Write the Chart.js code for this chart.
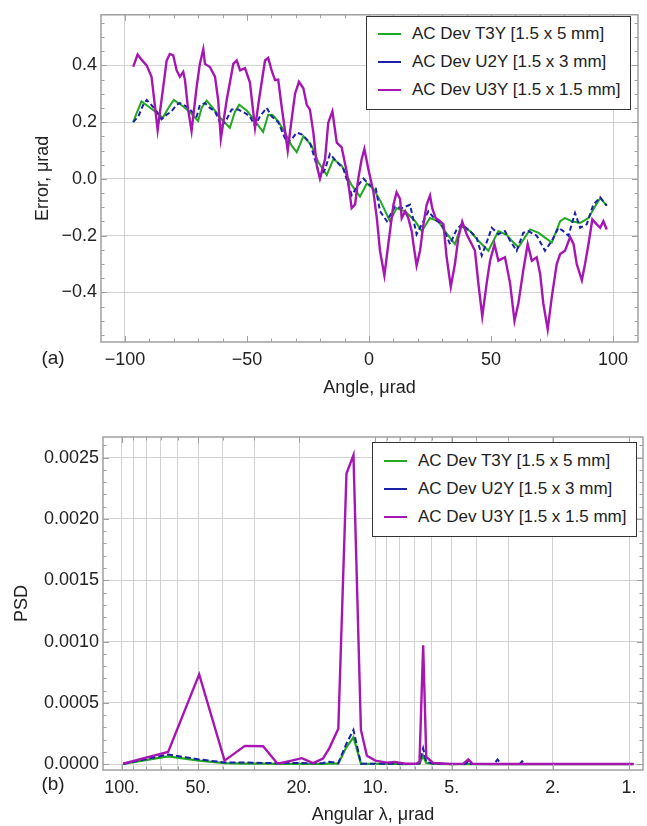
<!DOCTYPE html>
<html>
<head>
<meta charset="utf-8">
<title>AC Dev error and PSD</title>
<script src="https://cdn.jsdelivr.net/npm/chart.js@4.4.1/dist/chart.umd.min.js"></script>
<style>
  body { margin: 0; background: #fff; font-family: "Liberation Sans", Arial, sans-serif; }
  #wrap { position: relative; width: 647px; height: 826px; overflow: hidden; }
  canvas { position: absolute; left: 0; }
  .legend { position: absolute; box-sizing: border-box; width: 265px; background: #fff;
            border: 1.5px solid #333; font-size: 17px; color: #222; }
  .legend .row { display: flex; align-items: center; height: 28.2px; }
  .legend .swatch { width: 23px; height: 0; border-top: 2px solid; margin-left: 11px; margin-right: 11px; }
</style>
</head>
<body>
<div id="wrap">
  <canvas id="errChart" width="647" height="410" style="top:0"></canvas>
  <canvas id="psdChart" width="647" height="416" style="top:410px"></canvas>
  <div class="legend" id="errLegend" style="left:366px;top:16px;height:94px;padding-top:3px"></div>
  <div class="legend" id="psdLegend" style="left:372px;top:442px;height:95px;padding-top:4px"></div>
</div>
<script>
// ---- panel (a): error vs angle ----
const t3yAngle = [-96.6,-95.2,-93.2,-90.4,-87.5,-84.5,-82.2,-80.0,-76.1,-73.0,-70.0,-68.6,-66.5,-63.5,-60.4,-57.0,-55.0,-53.2,-50.0,-46.8,
  -43.4,-41.3,-39.5,-37.2,-34.4,-31.7,-29.6,-26.9,-23.5,-20.8,-17.3,-14.6,-11.2,-7.1,-3.7,-0.9,1.8,4.8,8.6,11.3,
  14.8,18.9,21.6,25.0,28.4,31.1,35.2,37.7,41.4,44.8,48.9,53.0,56.5,58.5,61.2,66.0,69.5,72.1,74.9,78.3,
  80.3,83.1,86.5,89.9,92.6,94.7,97.4];
const t3yError = [0.20,0.232,0.273,0.255,0.237,0.215,0.25,0.278,0.255,0.232,0.204,0.25,0.276,0.245,0.21,0.18,0.235,0.261,0.24,0.205,
  0.165,0.226,0.225,0.203,0.163,0.117,0.094,0.151,0.117,0.059,0.013,0.07,0.047,-0.022,-0.062,-0.016,-0.035,-0.08,-0.149,-0.103,
  -0.114,-0.149,-0.184,-0.138,-0.149,-0.184,-0.23,-0.166,-0.184,-0.218,-0.253,-0.184,-0.198,-0.218,-0.241,-0.178,-0.19,-0.207,-0.224,-0.149,
  -0.138,-0.149,-0.155,-0.138,-0.097,-0.068,-0.094];

const u2yAngle = [-96.6,-94.5,-92.5,-91.1,-89.1,-87.0,-85.0,-82.9,-80.9,-78.8,-77.5,-74.8,-72.7,-70.6,-69.3,-67.2,-65.2,-63.1,-60.4,-58.3,
  -56.3,-53.5,-50.8,-48.8,-46.7,-44.7,-41.9,-39.9,-37.2,-33.7,-31.7,-29.6,-27.6,-24.2,-21.4,-20.1,-18.0,-16.0,-13.2,-10.5,
  -7.1,-4.4,-2.3,0.4,2.8,4.5,7.3,10.7,13.4,16.8,19.5,22.3,24.3,27.1,29.8,33.2,35.9,38.0,41.4,44.1,
  46.2,48.9,50.3,53.0,55.7,57.8,60.5,63.2,65.3,68.7,72.1,74.9,77.6,79.6,81.7,84.4,86.5,89.2,91.9,94.7,97.4];
const u2yError = [0.20,0.22,0.261,0.278,0.26,0.238,0.21,0.226,0.238,0.261,0.267,0.255,0.238,0.22,0.261,0.267,0.25,0.238,0.186,0.21,
  0.244,0.244,0.232,0.22,0.186,0.22,0.25,0.22,0.20,0.128,0.14,0.163,0.157,0.128,0.047,0.007,0.035,0.088,0.06,0.036,
  -0.057,-0.022,0.001,-0.022,-0.034,-0.114,-0.149,-0.097,-0.103,-0.091,-0.195,-0.149,-0.114,-0.143,-0.16,-0.23,-0.178,-0.16,-0.184,-0.207,
  -0.27,-0.207,-0.172,-0.195,-0.184,-0.218,-0.253,-0.19,-0.184,-0.20,-0.253,-0.218,-0.172,-0.184,-0.20,-0.12,-0.172,-0.16,-0.091,-0.065,-0.094];

const u3yAngle = [-96.6,-94.8,-93.2,-91.1,-89.1,-87.7,-86.6,-85.0,-82.9,-81.6,-80.2,-78.8,-77.5,-76.1,-75.4,-74.1,-72.7,-70.6,-69.3,-67.9,
  -67.2,-65.2,-63.1,-61.8,-60.7,-58.3,-55.6,-54.2,-52.8,-50.8,-48.8,-46.7,-44.7,-42.6,-41.3,-39.9,-38.5,-37.2,-35.8,-33.3,
  -31.7,-30.3,-28.7,-26.9,-25.5,-24.2,-22.8,-21.4,-20.1,-18.0,-16.7,-15.0,-13.2,-11.2,-9.1,-7.1,-5.7,-4.4,-3.0,-1.9,
  -0.3,1.8,3.2,4.5,6.3,7.9,10.0,11.3,12.7,13.4,14.8,16.1,17.5,18.2,19.5,20.9,22.3,23.6,25.0,25.9,
  27.3,29.1,30.5,31.8,33.5,35.2,36.6,38.2,40.0,42.1,43.4,44.8,46.4,48.2,49.6,51.4,53.0,55.7,57.8,59.6,
  61.2,63.2,65.0,66.7,68.7,70.1,71.4,73.2,74.9,76.9,78.3,80.3,82.4,83.8,85.1,87.2,88.5,89.9,91.5,93.3,
  94.7,96.0,97.4];
const u3yError = [0.395,0.438,0.42,0.40,0.36,0.256,0.172,0.278,0.417,0.44,0.435,0.382,0.36,0.377,0.348,0.244,0.169,0.325,0.405,0.457,
  0.405,0.394,0.36,0.278,0.142,0.278,0.405,0.417,0.382,0.39,0.34,0.18,0.30,0.417,0.426,0.382,0.348,0.35,0.255,0.10,
  0.21,0.30,0.342,0.319,0.261,0.244,0.163,0.047,0.001,0.07,0.198,0.238,0.128,0.111,0.024,-0.103,-0.09,0.001,0.07,0.105,
  0.036,-0.045,-0.138,-0.253,-0.34,-0.23,-0.091,-0.047,-0.07,-0.138,-0.114,-0.138,-0.184,-0.23,-0.305,-0.253,-0.16,-0.091,-0.059,-0.103,
  -0.138,-0.149,-0.16,-0.276,-0.38,-0.30,-0.207,-0.151,-0.195,-0.23,-0.253,-0.368,-0.484,-0.368,-0.288,-0.23,-0.288,-0.276,-0.368,-0.50,
  -0.438,-0.322,-0.23,-0.288,-0.276,-0.334,-0.438,-0.53,-0.415,-0.30,-0.265,-0.253,-0.205,-0.23,-0.30,-0.357,-0.30,-0.23,-0.143,-0.16,
  -0.172,-0.149,-0.178];

const errXTicks = [-100, -50, 0, 50, 100];
const errYTicks = [-0.4, -0.2, 0, 0.2, 0.4];

// ---- panel (b): PSD vs angular wavelength ----
const t3yLambda = [98.8,65.6,49.5,39.3,32.7,27.7,24.3,21.4,19.5,17.6,16.1,15.2,14.0,13.0,12.2,11.4,10.8,10.0,9.0,8.4,
  7.6,6.9,6.7,6.48,6.3,5.9,5.0,4.3,3.3,2.6,2.0,1.5,0.96];
const t3yPsd = [0.000003,0.000065,0.00003,0.00001,0.000006,0.000005,0.000004,0.000004,0.000004,0.000003,0.000004,0.000005,0.000005,0.00014,0.00022,0.000006,0.000004,0.000003,0.000003,0.000003,
  0.000002,0.000003,0.000005,0.00007,0.00001,0.000003,0.000002,0.000002,0.000002,0.000002,0.000001,0.000001,0.000001];

const u2yLambda = [98.8,65.6,49.5,39.3,32.7,27.7,24.3,21.4,19.5,17.6,16.1,15.2,14.0,13.0,12.2,11.4,10.8,10.0,9.0,8.4,
  7.6,6.9,6.7,6.48,6.3,5.9,5.0,4.4,4.3,4.2,3.4,3.3,3.2,2.7,2.64,2.58,2.0,1.5,0.96];
const u2yPsd = [0.000003,0.00008,0.00004,0.000015,0.000015,0.00001,0.00001,0.00001,0.00001,0.000008,0.00001,0.00002,0.00001,0.00017,0.00028,0.000005,0.000005,0.000004,0.000004,0.000004,
  0.000003,0.000003,0.000008,0.00013,0.00002,0.000004,0.000003,0.000002,0.00003,0.000002,0.000002,0.00004,0.000002,0.000002,0.000025,0.000002,0.000002,0.000002,0.000002];

const u3yLambda = [98.8,65.6,49.5,39.3,32.7,27.7,24.3,21.4,19.5,17.6,16.1,15.2,14.0,13.0,12.2,11.4,10.8,10.0,9.0,8.4,
  7.6,6.9,6.7,6.48,6.3,5.9,5.0,4.5,4.3,4.15,3.5,3.0,2.0,1.5,0.96];
const u3yPsd = [0.000005,0.0001,0.000733,0.00003,0.00015,0.000147,0.000005,0.00003,0.00005,0.00001,0.000046,0.00013,0.00029,0.00237,0.00252,0.00028,0.00007,0.00003,0.000014,0.00002,
  0.000005,0.000005,0.00002,0.00097,0.00006,0.00001,0.000003,0.000005,0.00004,0.000005,0.000003,0.000003,0.000002,0.000002,0.000002];

const psdXTicks = [1,2,3,4,5,6,7,8,9,10,20,30,40,50,60,70,80,90,100];
const psdXLabels = [1, 2, 5, 10, 20, 50, 100];
const psdYTicks = [0, 0.0005, 0.001, 0.0015, 0.002, 0.0025];

const seriesNames = ['AC Dev T3Y [1.5 x 5 mm]', 'AC Dev U2Y [1.5 x 3 mm]', 'AC Dev U3Y [1.5 x 1.5 mm]'];
const green = '#22a822', blue = '#1a22a6', magenta = '#a616b2';

Chart.defaults.font.family = '"Liberation Sans", Arial, sans-serif';
Chart.defaults.color = '#222';

const gridColor = '#d2d2d2';
const frameColor = '#a0a0a0';

function pts(xs, ys) { return xs.map((x, i) => ({ x: x, y: ys[i] })); }
function minus(v) { return v < 0 ? '\u2212' + String(Math.abs(v)) : String(v); }

// frame with inward ticks on all four sides, plus the panel label
const framePlugin = {
  id: 'frame',
  afterDraw(chart, args, o) {
    const { ctx, chartArea: a, scales } = chart;
    ctx.save();
    ctx.strokeStyle = frameColor;
    ctx.lineWidth = 1;
    const seg = (x1, y1, x2, y2) => { ctx.beginPath(); ctx.moveTo(x1, y1); ctx.lineTo(x2, y2); ctx.stroke(); };
    const xTick = (v, len) => {
      const p = Math.round(scales.x.getPixelForValue(v)) + 0.5;
      if (p < a.left || p > a.right) return;
      seg(p, a.bottom, p, a.bottom - len); seg(p, a.top, p, a.top + len);
    };
    const yTick = (v, len) => {
      const p = Math.round(scales.y.getPixelForValue(v)) + 0.5;
      if (p < a.top || p > a.bottom) return;
      seg(a.left, p, a.left + len, p); seg(a.right, p, a.right - len, p);
    };
    o.xMinor.forEach(v => xTick(v, 3.5));
    o.xMajor.forEach(v => xTick(v, 6));
    o.yMinor.forEach(v => yTick(v, 3.5));
    o.yMajor.forEach(v => yTick(v, 6));
    ctx.lineWidth = 1.5;
    ctx.strokeRect(a.left, a.top, a.right - a.left, a.bottom - a.top);
    ctx.fillStyle = '#222';
    ctx.font = '19px "Liberation Sans", Arial, sans-serif';
    ctx.textAlign = 'center';
    ctx.textBaseline = 'middle';
    ctx.fillText(o.label, 53, a.bottom + o.labelDy);
    ctx.restore();
  }
};

const errXMinor = [], errYMinor = [];
for (let v = -100; v <= 100; v += 10) errXMinor.push(v);
for (let k = -11; k <= 11; k++) errYMinor.push(k * 0.05);

const errChart = new Chart(document.getElementById('errChart'), {
  type: 'line',
  data: {
    datasets: [
      { label: seriesNames[0], data: pts(t3yAngle, t3yError), borderColor: green, borderWidth: 2, order: 2 },
      { label: seriesNames[1], data: pts(u2yAngle, u2yError), borderColor: blue, borderWidth: 2, borderDash: [5, 3], order: 1 },
      { label: seriesNames[2], data: pts(u3yAngle, u3yError), borderColor: magenta, borderWidth: 2.4, order: 0 }
    ]
  },
  options: {
    responsive: false,
    animation: false,
    pointRadius: 0,
    elements: { point: { radius: 0 }, line: { tension: 0 } },
    layout: { padding: { left: 0, right: 9, top: 10, bottom: 0 } },
    plugins: {
      legend: { display: false },
      tooltip: { enabled: false },
      frame: { label: '(a)', labelDy: 17, xMajor: errXTicks, xMinor: errXMinor, yMajor: errYTicks, yMinor: errYMinor }
    },
    scales: {
      x: {
        type: 'linear', min: -109.8, max: 110.2,
        afterBuildTicks: s => { s.ticks = errXTicks.map(v => ({ value: v })); },
        afterFit: s => { s.height = 68; },
        border: { display: false },
        grid: { drawTicks: false, color: c => (c.tick && c.tick.value % 100 === 0) ? gridColor : 'rgba(0,0,0,0)' },
        ticks: { autoSkip: false, maxRotation: 0, padding: 7, font: { size: 18 }, callback: v => minus(v) },
        title: { display: true, text: 'Angle, \u03bcrad', font: { size: 18 }, padding: { top: 0, bottom: 11 } }
      },
      y: {
        min: -0.5745, max: 0.578,
        afterBuildTicks: s => { s.ticks = errYTicks.map(v => ({ value: v })); },
        afterFit: s => { s.width = 101; },
        border: { display: false },
        grid: { drawTicks: false, color: gridColor },
        ticks: { padding: 4, font: { size: 18 }, callback: v => minus(Number(v).toFixed(1)) },
        title: { display: true, text: 'Error, \u03bcrad', font: { size: 18 }, padding: { top: 32, bottom: 0 } }
      }
    }
  },
  plugins: [framePlugin]
});

const psdYMinor = [];
for (let k = 0; k <= 26; k++) psdYMinor.push(k * 0.0001);

const psdChart = new Chart(document.getElementById('psdChart'), {
  type: 'line',
  data: {
    datasets: [
      { label: seriesNames[0], data: pts(t3yLambda, t3yPsd), borderColor: green, borderWidth: 2.2, order: 2 },
      { label: seriesNames[1], data: pts(u2yLambda, u2yPsd), borderColor: blue, borderWidth: 2, borderDash: [6, 3], order: 1 },
      { label: seriesNames[2], data: pts(u3yLambda, u3yPsd), borderColor: magenta, borderWidth: 2.4, order: 0 }
    ]
  },
  options: {
    responsive: false,
    animation: false,
    elements: { point: { radius: 0 }, line: { tension: 0 } },
    layout: { padding: { left: 0, right: 4, top: 27, bottom: 0 } },
    plugins: {
      legend: { display: false },
      tooltip: { enabled: false },
      frame: { label: '(b)', labelDy: 15, xMajor: psdXLabels, xMinor: psdXTicks, yMajor: psdYTicks, yMinor: psdYMinor }
    },
    scales: {
      x: {
        type: 'logarithmic', min: 0.881, max: 118.5, reverse: true,
        afterBuildTicks: s => { s.ticks = psdXTicks.map(v => ({ value: v })); },
        afterFit: s => { s.height = 56; },
        border: { display: false },
        grid: { drawTicks: false, color: gridColor },
        ticks: { autoSkip: false, maxRotation: 0, padding: 7, font: { size: 18 },
                 callback: v => psdXLabels.includes(v) ? v + '.' : '' },
        title: { display: true, text: 'Angular \u03bb, \u03bcrad', font: { size: 18 }, padding: { top: 0, bottom: 0 } }
      },
      y: {
        min: -0.0000465, max: 0.002668,
        afterBuildTicks: s => { s.ticks = psdYTicks.map(v => ({ value: v })); },
        afterFit: s => { s.width = 103; },
        border: { display: false },
        grid: { drawTicks: false, color: gridColor },
        ticks: { padding: 4, font: { size: 18 }, callback: v => Number(v).toFixed(4) },
        title: { display: true, text: 'PSD', font: { size: 18 }, padding: { top: 11, bottom: 0 } }
      }
    }
  },
  plugins: [framePlugin]
});

// boxed legends built from the datasets
function buildLegend(id, chart) {
  const box = document.getElementById(id);
  chart.data.datasets.forEach(ds => {
    const row = document.createElement('div');
    row.className = 'row';
    const sw = document.createElement('span');
    sw.className = 'swatch';
    sw.style.borderTopColor = ds.borderColor;
    const tx = document.createElement('span');
    tx.textContent = ds.label;
    row.appendChild(sw);
    row.appendChild(tx);
    box.appendChild(row);
  });
}
buildLegend('errLegend', errChart);
buildLegend('psdLegend', psdChart);
</script>
</body>
</html>
